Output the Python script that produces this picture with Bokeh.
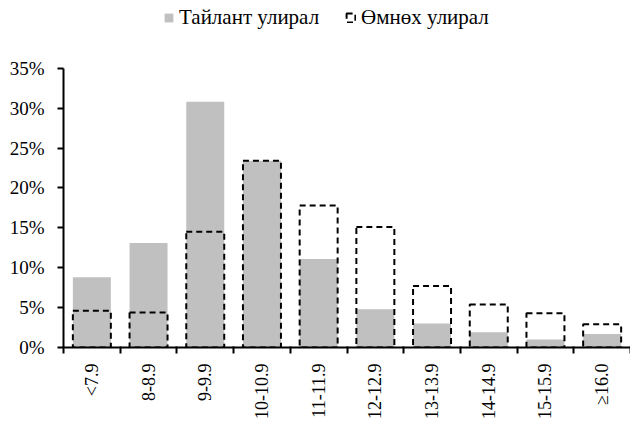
import math
from bokeh.plotting import figure
from bokeh.models import (ColumnDataSource, FixedTicker, PrintfTickFormatter,
                          CustomJSTickFormatter, Range1d, Legend, LegendItem)
from bokeh.embed import file_html
from bokeh.resources import INLINE

categories = ["<7.9", "8-8.9", "9-9.9", "10-10.9", "11-11.9", "12-12.9",
              "13-13.9", "14-14.9", "15-15.9", "≥16.0"]
current_quarter = [8.8, 13.1, 30.8, 23.4, 11.1, 4.8, 3.0, 1.9, 1.0, 1.7]
previous_quarter = [4.6, 4.4, 14.5, 23.4, 17.8, 15.1, 7.7, 5.4, 4.3, 2.9]
y_ticks = [0, 5, 10, 15, 20, 25, 30, 35]
series_names = ["Тайлант улирал", "Өмнөх улирал"]

FONT = "'Liberation Serif', 'Times New Roman', 'DejaVu Serif', serif"

W, H = 630, 421
TOP, BOTTOM, LEFT = 2, 73, 63
AXIS_TOP_PX = 68  # pixel row of the 35% tick
frame_h = H - TOP - BOTTOM
y_max = y_ticks[-1]
y_end = y_max * frame_h / (H - BOTTOM - AXIS_TOP_PX)

xs = [i + 0.5 for i in range(len(categories))]
src = ColumnDataSource(dict(x=xs, cur=current_quarter, prev=previous_quarter))

p = figure(width=W, height=H, output_backend="svg", toolbar_location=None,
           x_range=Range1d(0, len(categories)), y_range=Range1d(0, y_end),
           min_border_left=LEFT, min_border_right=0, min_border_top=TOP,
           min_border_bottom=BOTTOM)
p.outline_line_color = None
p.xgrid.visible = False
p.ygrid.visible = False

r_cur = p.vbar(x="x", top="cur", width=0.67, source=src,
               fill_color="#c0c0c0", line_color=None)
r_prev = p.vbar(x="x", top="prev", width=0.67, source=src,
                fill_color=None, line_color="black", line_width=2,
                line_dash="6 4")

# axes
p.xaxis.ticker = FixedTicker(ticks=xs, minor_ticks=list(range(len(categories) + 1)))
p.xaxis.formatter = CustomJSTickFormatter(
    args=dict(labels=categories),
    code="const i = Math.floor(tick); return (i >= 0 && i < labels.length) ? labels[i] : '';")
p.xaxis.major_label_orientation = math.pi / 2
p.xaxis.major_tick_line_color = None
p.xaxis.minor_tick_out = 6
p.xaxis.minor_tick_in = 1
p.xaxis.minor_tick_line_width = 2
p.xaxis.minor_tick_line_color = "black"
p.xaxis.axis_line_width = 2
p.xaxis.axis_line_color = "black"
p.xaxis.major_label_text_font = FONT
p.xaxis.major_label_text_font_size = "18px"
p.xaxis.major_label_text_color = "black"
p.xaxis.major_label_standoff = 10

p.yaxis.ticker = FixedTicker(ticks=y_ticks)
p.yaxis.bounds = (0, y_max)
p.yaxis.formatter = PrintfTickFormatter(format="%d%%")
p.yaxis.minor_tick_line_color = None
p.yaxis.major_tick_out = 6
p.yaxis.major_tick_in = 0
p.yaxis.major_tick_line_width = 2
p.yaxis.axis_line_width = 2
p.yaxis.axis_line_color = "black"
p.yaxis.major_label_text_font = FONT
p.yaxis.major_label_text_font_size = "19px"
p.yaxis.major_label_text_color = "black"
p.yaxis.major_label_standoff = 13

legend = Legend(items=[LegendItem(label=series_names[0], renderers=[r_cur]),
                       LegendItem(label=series_names[1], renderers=[r_prev])],
                orientation="horizontal", location=(100, 317),
                label_text_font=FONT, label_text_font_size="21px",
                label_text_color="black", glyph_width=11, glyph_height=11,
                spacing=26, label_standoff=5, border_line_color=None,
                background_fill_alpha=0, margin=0, padding=0)
p.add_layout(legend)

open("out.html", "w").write(file_html(p, INLINE))
